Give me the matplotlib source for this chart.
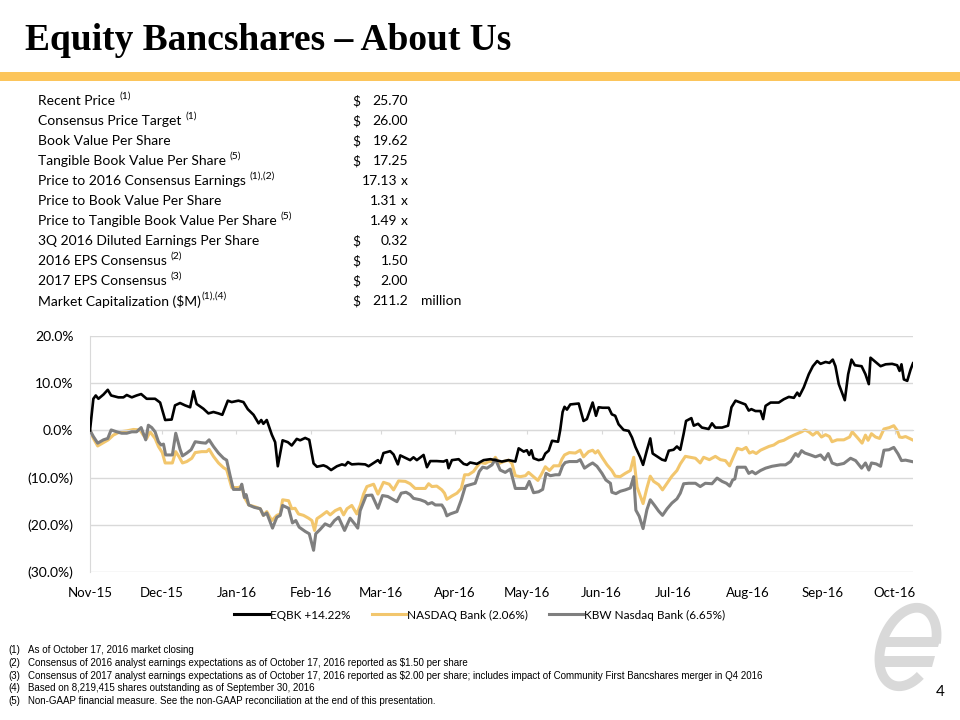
import numpy as np
import pandas as pd
import matplotlib
matplotlib.use("Agg")
import matplotlib.pyplot as plt
import matplotlib.dates as mdates
from matplotlib.patches import Rectangle, Polygon
from matplotlib.lines import Line2D

#%% table data
row_labels = ["Recent Price", "Consensus Price Target", "Book Value Per Share",
              "Tangible Book Value Per Share", "Price to 2016 Consensus Earnings",
              "Price to Book Value Per Share", "Price to Tangible Book Value Per Share",
              "3Q 2016 Diluted Earnings Per Share", "2016 EPS Consensus",
              "2017 EPS Consensus", "Market Capitalization ($M)"]
row_notes = ["(1)", "(1)", "", "(5)", "(1),(2)", "", "(5)", "", "(2)", "(3)", "(1),(4)"]
row_dollar = [True, True, True, True, False, False, False, True, True, True, True]
row_values = ["25.70", "26.00", "19.62", "17.25", "17.13", "1.31", "1.49",
              "0.32", "1.50", "2.00", "211.2"]
row_suffix = ["", "", "", "", "x", "x", "x", "", "", "", "million"]

footnotes = [
    "As of October 17, 2016 market closing",
    "Consensus of 2016 analyst earnings expectations as of October 17, 2016 reported as $1.50 per share",
    "Consensus of 2017 analyst earnings expectations as of October 17, 2016 reported as $2.00 per share; includes impact of Community First Bancshares merger in Q4 2016",
    "Based on 8,219,415 shares outstanding as of September 30, 2016",
    "Non-GAAP financial measure. See the non-GAAP reconciliation at the end of this presentation.",
]

#%% price performance (% change since start)
START = pd.Timestamp("2015-11-01")
series_names = ["EQBK +14.22%", "NASDAQ Bank (2.06%)", "KBW Nasdaq Bank (6.65%)"]

eqbk_days = [0, 1.4, 2.4, 3.5, 5.6, 7.4, 8.8, 11.8, 13.9, 15.3, 17.4, 19.4, 21.3, 23.6, 27.1,
             29.2, 31.3, 34.0, 35.4, 37.5, 39.6, 41.7, 43.1, 44.4, 47.2, 49.3, 51.4, 53.5, 55.1,
             57.4, 59.0, 61.8, 63.9, 65.7, 68.1, 70.2, 71.3, 72.2, 73.6, 75.7, 77.1, 78.2, 80.2,
             82.4, 84.0, 86.1, 87.5, 89.6, 91.3, 93.1, 94.5, 97.2, 98.6, 100.4, 102.8, 104.9,
             106.3, 107.4, 109.0, 111.8, 114.6, 116.0, 118.1, 119.9, 120.9, 122.2, 125.0, 126.4,
             128.2, 129.2, 131.3, 133.3, 134.7, 136.1, 138.9, 140.3, 141.7, 144.4, 147.2, 148.6,
             149.3, 150.7, 153.5, 155.6, 157.0, 158.3, 161.1, 163.9, 166.7, 168.8, 171.5, 174.3,
             177.1, 178.5, 180.6, 181.9, 182.9, 183.8, 184.7, 186.8, 188.5, 189.6, 191.0, 192.4,
             194.9, 195.8, 196.8, 197.6, 198.6, 200.0, 203.5, 205.5, 206.9, 209.3, 210.7, 211.8,
             213.5, 216.0, 217.3, 218.7, 220.1, 222.2, 224.3, 225.7, 227.1, 229.1, 230.3, 231.9,
             233.3, 234.3, 236.1, 238.2, 239.6, 241.0, 243.0, 244.4, 245.8, 247.2, 248.2, 250.4,
             251.4, 253.2, 254.8, 257.6, 259.0, 260.4, 263.2, 265.7, 267.1, 268.8, 270.9, 272.9,
             274.3, 275.4, 277.1, 279.2, 280.3, 281.3, 283.4, 286.8, 288.9, 291.0, 293.1, 294.5,
             295.4, 297.2, 299.3, 301.0, 302.8, 304.2, 306.3, 307.9, 309.3, 310.4, 311.8, 314.3,
             315.7, 317.1, 318.5, 321.3, 322.9, 324.3, 325.0, 327.1, 329.2, 331.3, 334.0, 336.1,
             337.1, 337.9, 338.9, 340.3, 341.7, 342.7]
eqbk_vals = [0, 6.7, 7.4, 6.7, 7.6, 8.6, 7.4, 7.0, 7.0, 7.5, 7.0, 7.4, 7.7, 6.7, 6.7,
             5.9, 2.2, 2.3, 5.3, 5.8, 5.3, 4.9, 8.3, 5.6, 4.6, 3.6, 3.9, 3.6, 3.3,
             6.3, 6.0, 6.3, 6.0, 4.5, 3.3, 1.5, 2.2, 1.4, 2.2, -0.9, -2.5, -7.6, -2.1,
             -2.5, -3.2, -1.8, -2.1, -1.6, -2.0, -7.0, -7.7, -7.4, -7.7, -8.4, -7.6, -7.2,
             -7.4, -6.7, -7.2, -7.1, -7.2, -7.6, -6.9, -6.3, -6.9, -4.8, -4.4, -5.1,
             -7.2, -5.3, -5.8, -6.3, -5.7, -6.3, -5.2, -7.8, -6.5, -6.5, -6.6, -6.3,
             -8.0, -6.3, -6.1, -7.1, -7.3, -6.8, -7.1, -6.3, -6.1, -6.3, -6.6, -6.3,
             -6.6, -3.8, -4.5, -4.2, -5.2, -4.2, -5.9, -6.3, -6.1, -4.9, -4.3, -2.2,
             -2.4, 0.1, 3.9, 5.0, 4.4, 5.5, 5.7, 2.0, 2.4, 5.9, 3.1, 4.9,
             4.8, 4.8, 3.4, 3.1, 1.3, 0.1, -0.1, -1.5, -3.5, -5.7, -7.3, -4.2,
             -1.7, -4.9, -5.5, -6.2, -6.4, -4.3, -4.1, -3.4, -4.1, -0.7, 2.0, 2.6,
             1.0, 1.4, 0.6, 0.3, 1.5, 0.6, 0.6, 1.0, 4.9, 6.3, 5.9, 5.5,
             4.2, 4.5, 4.1, 4.1, 2.4, 5.2, 5.9, 5.9, 6.6, 7.1, 6.9, 8.0,
             7.3, 9.1, 11.9, 13.6, 14.7, 14.1, 14.5, 14.3, 15.0, 13.6, 9.8, 6.4,
             11.9, 15.0, 13.8, 13.6, 11.9, 9.8, 15.4, 14.5, 13.6, 14.0, 14.1, 13.8,
             12.6, 14.0, 10.8, 10.5, 12.9, 14.22]

nasdaq_days = [0, 1.4, 3.2, 5.6, 7.6, 9.7, 12.5, 15.3, 18.1, 20.8, 22.2, 23.6, 25.0, 27.1,
               28.5, 30.1, 31.3, 34.3, 35.7, 37.1, 38.5, 40.3, 42.4, 43.8, 46.5, 48.6, 49.6,
               51.4, 53.5, 55.6, 56.9, 59.0, 61.8, 63.2, 64.3, 66.1, 68.8, 70.9, 72.2, 73.6,
               75.7, 77.8, 79.2, 80.2, 82.7, 84.0, 85.4, 86.8, 88.9, 91.0, 92.4, 93.5, 94.5,
               96.5, 98.6, 100.0, 102.1, 104.2, 105.6, 107.0, 109.0, 111.1, 112.5, 113.9,
               115.3, 118.1, 119.9, 122.2, 124.6, 126.4, 128.5, 131.3, 133.3, 135.4, 137.5,
               139.6, 141.0, 142.4, 144.4, 146.5, 147.6, 148.6, 150.7, 152.8, 154.6, 156.0,
               157.6, 159.7, 161.1, 162.5, 164.6, 166.0, 167.6, 168.8, 170.4, 172.2, 174.3,
               175.7, 177.1, 179.2, 181.3, 182.6, 184.7, 186.5, 187.9, 189.6, 191.3, 193.1,
               195.4, 196.5, 197.6, 199.6, 202.1, 204.1, 205.5, 207.6, 209.3, 210.4, 211.5,
               213.2, 215.3, 217.3, 218.7, 220.8, 222.9, 225.0, 226.4, 227.8, 230.3, 231.9,
               233.3, 234.7, 236.8, 238.4, 240.3, 242.3, 244.4, 245.8, 247.9, 250.0, 252.1,
               254.1, 255.5, 257.9, 260.4, 262.5, 264.6, 266.3, 268.0, 269.5, 271.5, 273.2,
               274.6, 276.0, 277.4, 279.2, 281.0, 282.7, 284.7, 286.8, 288.9, 291.0, 293.1,
               294.9, 296.3, 297.7, 299.3, 301.0, 302.8, 304.6, 306.3, 307.9, 309.0, 311.1,
               313.9, 316.3, 317.4, 319.5, 321.5, 322.9, 324.0, 325.4, 327.1, 328.8, 330.6,
               332.9, 334.7, 336.1, 337.1, 338.2, 339.6, 342.7]
nasdaq_vals = [0, -1.7, -3.3, -2.6, -2.0, -1.0, -0.3, -0.1, 0.2, 0.1, -1.0, -1.7, -0.3, -1.7,
               -3.4, -4.7, -6.9, -6.9, -4.5, -5.6, -6.9, -6.6, -5.9, -4.7, -4.5, -4.5, -4.0,
               -5.5, -6.9, -7.9, -8.3, -12.1, -12.1, -11.8, -14.2, -15.8, -16.2, -16.6, -18.0, -17.2,
               -19.1, -18.0, -17.7, -14.7, -14.9, -16.6, -16.5, -17.7, -18.0, -18.6, -19.1, -21.2, -18.7,
               -18.0, -17.2, -17.9, -17.0, -16.5, -17.9, -16.6, -15.9, -17.7, -15.9, -13.5,
               -11.9, -11.4, -13.5, -11.0, -11.4, -12.6, -10.7, -10.8, -11.3, -12.3, -12.3,
               -12.3, -11.3, -11.9, -11.8, -12.6, -13.3, -14.6, -13.9, -13.3, -12.3, -9.4,
               -9.4, -8.7, -7.7, -6.8, -7.0, -6.6, -6.6, -5.7, -7.0, -6.6, -6.3,
               -7.0, -9.6, -9.8, -9.6, -8.9, -9.8, -10.6, -9.4, -7.7, -8.5, -7.5,
               -7.5, -6.1, -5.2, -4.7, -4.8, -4.2, -5.6, -4.5, -4.2, -4.8, -4.3,
               -5.7, -7.3, -8.5, -9.7, -9.8, -9.1, -8.5, -5.7, -12.0, -15.5, -12.2,
               -9.7, -10.8, -11.5, -12.6, -11.2, -9.7, -8.5, -7.1, -5.5, -5.7, -5.9,
               -6.9, -5.7, -6.2, -5.5, -6.2, -6.4, -7.5, -5.5, -3.8, -4.1, -3.6,
               -4.8, -4.5, -4.9, -4.2, -3.8, -3.4, -3.1, -2.4, -2.1, -1.5, -1.0,
               -0.6, -0.3, 0.1, -0.3, -1.0, -0.3, -1.4, -0.9, -1.3, -2.4, -2.0,
               -2.0, -1.4, -0.3, -1.5, -2.7, -1.0, -2.1, -0.7, -1.4, -1.7, 0.3,
               0.6, 1.0, 0.0, -1.4, -1.5, -1.3, -2.06]

kbw_days = [0, 1.4, 3.2, 5.6, 7.4, 8.8, 11.1, 13.2, 15.3, 17.4, 19.4, 21.3, 23.2, 24.3, 25.7,
            27.1, 28.5, 29.6, 30.6, 31.5, 34.3, 35.7, 37.5, 38.5, 40.3, 42.1, 43.8, 46.3, 48.2,
            49.6, 51.4, 53.5, 55.6, 56.9, 58.3, 59.7, 62.5, 63.2, 64.3, 65.0, 66.1, 68.4, 70.9,
            72.2, 73.6, 76.0, 77.8, 79.2, 80.2, 82.7, 84.3, 85.7, 87.1, 89.6, 91.3, 93.1, 94.0,
            95.8, 97.9, 100.0, 101.8, 103.5, 106.0, 108.3, 110.2, 111.5, 112.5, 115.0, 117.4,
            119.9, 121.8, 124.0, 125.7, 127.8, 129.6, 131.6, 133.3, 134.7, 137.5, 139.6, 140.7,
            142.4, 143.8, 146.5, 147.6, 148.6, 150.0, 152.8, 154.6, 156.3, 158.3, 160.4, 162.1,
            163.5, 165.3, 167.4, 168.8, 170.8, 172.9, 175.0, 177.1, 179.2, 181.5, 182.9, 184.7,
            186.8, 188.5, 189.9, 191.7, 193.8, 195.4, 196.8, 197.9, 199.6, 202.8, 204.1, 205.9,
            207.9, 209.3, 211.1, 213.2, 214.8, 216.7, 217.3, 219.0, 220.8, 222.9, 225.0, 226.4,
            227.3, 228.7, 230.3, 231.9, 233.3, 235.1, 236.8, 238.4, 240.3, 242.3, 244.4, 245.8,
            247.2, 249.3, 252.1, 254.1, 256.2, 259.0, 261.1, 263.2, 265.0, 266.4, 267.6, 268.5,
            269.5, 272.9, 274.3, 275.7, 277.1, 279.2, 281.3, 284.0, 287.5, 289.6, 291.7, 293.8,
            294.9, 296.3, 297.7, 300.0, 302.1, 304.2, 305.9, 307.4, 309.0, 311.1, 313.9, 316.7,
            318.8, 321.3, 322.9, 324.3, 325.4, 327.4, 329.2, 330.6, 332.7, 334.7, 336.5, 337.9,
            339.6, 342.7]
kbw_vals = [0, -1.3, -2.7, -2.0, -1.7, 0.1, -0.3, -0.6, -0.6, -0.3, -0.3, 0.6, -2.0, 1.1, 0.6,
            -0.3, -2.4, -3.1, -2.9, -5.2, -5.2, -0.6, -4.0, -5.4, -4.8, -4.1, -2.4, -2.6, -2.7,
            -2.0, -3.4, -4.8, -5.9, -6.3, -9.5, -12.5, -12.5, -11.4, -14.2, -13.6, -15.8, -16.3, -16.6,
            -18.0, -17.5, -20.7, -18.4, -18.0, -15.9, -16.5, -19.6, -19.1, -20.5, -21.4, -21.9, -25.4, -21.9,
            -21.0, -19.8, -20.3, -19.1, -18.4, -21.2, -18.6, -19.8, -20.7, -17.0, -13.8, -13.7,
            -16.5, -13.8, -14.0, -14.5, -15.1, -13.3, -13.1, -13.6, -14.4, -14.7, -15.1, -15.6,
            -15.3, -15.8, -15.8, -16.7, -18.1, -17.7, -17.2, -14.7, -11.8, -11.5, -11.2, -8.7,
            -7.8, -8.0, -7.3, -6.1, -8.4, -8.9, -8.2, -12.3, -12.3, -12.3, -10.8, -13.2,
            -13.0, -12.5, -9.1, -9.6, -9.4, -9.4, -7.5, -6.8, -6.6, -6.6, -6.2, -8.0,
            -7.3, -6.9, -7.6, -9.1, -10.5, -11.2, -13.1, -13.4, -12.9, -12.6, -12.2, -9.8,
            -16.9, -18.2, -20.8, -16.8, -14.7, -15.9, -17.1, -18.0, -16.6, -15.4, -14.5, -13.3,
            -11.3, -11.2, -11.2, -11.9, -11.2, -11.3, -10.1, -10.8, -11.2, -11.8, -10.5, -10.3,
            -7.8, -7.8, -9.1, -8.7, -9.2, -8.5, -8.0, -7.6, -7.3, -7.3, -6.6, -4.9,
            -5.5, -4.3, -4.8, -5.2, -5.6, -5.2, -6.2, -4.9, -6.9, -7.3, -7.0, -5.9,
            -6.4, -8.0, -6.9, -8.4, -6.9, -7.1, -7.6, -4.2, -4.1, -3.6, -5.0, -6.4,
            -6.3, -6.65]

BLACK = "#000000"
GOLD = "#F2C66D"
GREY = "#7F7F7F"
SANS = "Lato"


def to_dates(days):
    return START + pd.to_timedelta(np.array(days), unit="D")


def pct_fmt(v, pos):
    if v < 0:
        return "({:.1f}%)".format(-v)
    return "{:.1f}%".format(v)


fig = plt.figure(figsize=(9.6, 7.2), dpi=100)

# page layer in pixel coords (y down)
page = fig.add_axes([0, 0, 1, 1], zorder=0)
page.set_xlim(0, 960)
page.set_ylim(720, 0)
page.axis("off")

page.text(25, 50, "Equity Bancshares \u2013 About Us", family="Liberation Serif",
          weight="bold", fontsize=27, va="baseline", ha="left")
page.add_patch(Rectangle((0, 72), 960, 9, color="#FCC55B", lw=0))

# logo (decorative)
t = np.radians(np.linspace(20, 328, 120))
phi = np.radians(22)
cx, cy, a, b = 908, 647, 26, 41
lx = cx + a * np.cos(t) * np.cos(phi) + b * np.sin(t) * np.sin(phi)
ly = cy + a * np.cos(t) * np.sin(phi) - b * np.sin(t) * np.cos(phi)
page.plot(lx, ly, color="#D9D9D9", lw=7, solid_capstyle="butt")
page.add_patch(Polygon([(884, 637), (941, 637), (938, 647), (881, 647)], color="#D9D9D9", lw=0))
page.add_patch(Polygon([(878, 656), (935, 656), (932, 667), (875, 667)], color="#D9D9D9", lw=0))
page.text(940, 692, "4", fontsize=11, family=SANS, ha="center", va="center")

# key figures table
fig.canvas.draw()
renderer = fig.canvas.get_renderer()
FS = 10
for i, lab in enumerate(row_labels):
    y = 101 + 20 * i
    t_lab = page.text(38, y, lab, fontsize=FS, family=SANS, va="center", ha="left")
    if row_notes[i]:
        bb = t_lab.get_window_extent(renderer)
        gap = 1 if lab.endswith(")") else 4
        page.text(bb.x1 + gap, y - 5, row_notes[i], fontsize=7.5, family=SANS,
                  va="center", ha="left")
    if row_dollar[i]:
        page.text(352, y, "$", fontsize=FS, family=SANS, va="center", ha="left")
        page.text(408, y, row_values[i], fontsize=FS, family=SANS, va="center", ha="right")
    else:
        page.text(397, y, row_values[i], fontsize=FS, family=SANS, va="center", ha="right")
    if row_suffix[i] == "x":
        page.text(401, y, "x", fontsize=FS, family=SANS, va="center", ha="left")
    elif row_suffix[i]:
        page.text(421, y, row_suffix[i], fontsize=FS, family=SANS, va="center", ha="left")

for i, note in enumerate(footnotes):
    y = 650 + 12.8 * i
    page.text(8, y, "({})".format(i + 1), fontsize=7, family="Liberation Sans", va="center")
    page.text(28, y, note, fontsize=7, family="Liberation Sans", va="center")

#%% performance chart
ax = fig.add_axes([90 / 960, 1 - 572 / 720, (913 - 90) / 960, (572 - 336) / 720], zorder=1)
ax.plot(to_dates(eqbk_days), eqbk_vals, color=BLACK, lw=1.9, zorder=4)
ax.plot(to_dates(nasdaq_days), nasdaq_vals, color=GOLD, lw=2.2, zorder=2)
ax.plot(to_dates(kbw_days), kbw_vals, color=GREY, lw=2.2, zorder=3)

ax.set_xlim(START, to_dates([eqbk_days[-1]])[0])
ax.set_ylim(-30, 20)
ax.set_yticks([-30, -20, -10, 0, 10, 20])
ax.yaxis.set_major_formatter(plt.FuncFormatter(pct_fmt))
ax.grid(axis="y", color="#D9D9D9", lw=1)
ax.set_axisbelow(True)

ax.xaxis.set_major_locator(mdates.MonthLocator())
ax.xaxis.set_major_formatter(mdates.DateFormatter("%b-%y"))

for s in ["top", "right"]:
    ax.spines[s].set_visible(False)
ax.spines["left"].set_color("#D9D9D9")
ax.spines["bottom"].set_position(("data", 0))
ax.spines["bottom"].set_color("#D9D9D9")
ax.tick_params(axis="y", length=0, pad=12, labelsize=10, labelfontfamily=SANS)
ax.tick_params(axis="x", length=3, color="#D9D9D9", direction="out", pad=110,
               labelsize=9.5, labelfontfamily=SANS)

handles = [Line2D([], [], color=BLACK, lw=2.2), Line2D([], [], color=GOLD, lw=2.2),
           Line2D([], [], color=GREY, lw=2.2)]
fig.legend(handles, series_names, loc="center", bbox_to_anchor=(0.5, 1 - 615 / 720),
           ncol=3, frameon=False, handlelength=2.9, handletextpad=0.1,
           columnspacing=1.8, prop={"family": SANS, "size": 8.5})

fig.savefig("out.png", dpi=100)
